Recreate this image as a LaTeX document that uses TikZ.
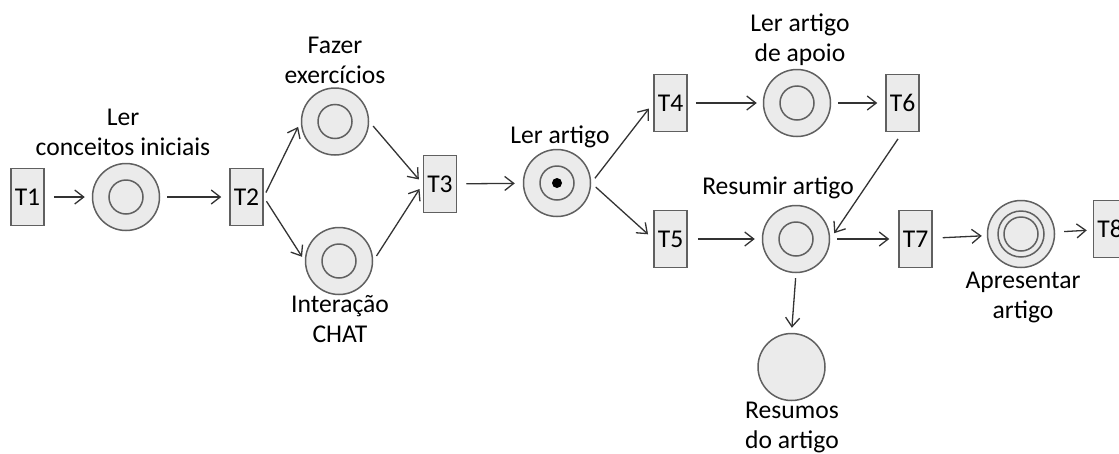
\documentclass[tikz,border=0pt]{standalone}
\usepackage{fontspec}
\setmainfont{Carlito}
\usetikzlibrary{arrows.meta}
\definecolor{placefill}{HTML}{EBEBEB}
\definecolor{edgegray}{HTML}{606060}
\begin{document}
\begin{tikzpicture}[x=1pt,y=-1pt,font=\fontsize{25.6}{30}\selectfont,
	trans/.style={draw=edgegray,fill=placefill,line width=1.5pt,minimum width=33pt,minimum height=57pt,inner sep=0pt},
	sink/.style={circle,draw=edgegray,fill=placefill,line width=1.5pt,minimum size=67pt,inner sep=0pt},
	place/.style={sink,path picture={\draw[edgegray,line width=1.5pt] (path picture bounding box.center) circle (17pt);}},
	marked/.style={sink,path picture={\draw[edgegray,line width=1.5pt] (path picture bounding box.center) circle (17pt);
		\fill[black] (path picture bounding box.center) circle (5pt);}},
	final/.style={sink,path picture={\draw[edgegray,line width=1.5pt] (path picture bounding box.center) circle (17pt) circle (23pt);}},
	txt/.style={align=center,inner sep=0pt},
	arc/.style={-{Straight Barb[length=9pt,width=14pt]},line width=1.3pt,draw=black!80}]
	\useasboundingbox (0,0) rectangle (1119,453);
	\node[trans] (t1) at (27.5,197) {T1};
	\node[place] (p1) at (126,197) {};
	\node[txt] (l1) at (123,132) {Ler\\conceitos iniciais};
	\node[trans] (t2) at (246.5,197) {T2};
	\node[place] (p2) at (335,121.5) {};
	\node[txt] (l2) at (335,60) {Fazer\\exercícios};
	\node[place] (p3) at (339,261) {};
	\node[txt] (l3) at (340,319) {Interação\\CHAT};
	\node[trans] (t3) at (440,184) {T3};
	\node[marked] (p4) at (557,183) {};
	\node[txt] (l4) at (560,137) {Ler artigo};
	\node[trans] (t4) at (670.5,103) {T4};
	\node[trans] (t5) at (670.5,239) {T5};
	\node[place] (p5) at (797,103) {};
	\node[txt] (l5) at (800,40) {Ler artigo\\de apoio};
	\node[trans] (t6) at (902.5,103) {T6};
	\node[place] (p6) at (796,239) {};
	\node[txt] (l6) at (778,188) {Resumir artigo};
	\node[sink] (p7) at (791.5,367) {};
	\node[txt] (l7) at (792,427) {Resumos\\do artigo};
	\node[trans] (t7) at (915.5,239) {T7};
	\node[final] (p8) at (1021,234) {};
	\node[txt] (l8) at (1023,297) {Apresentar\\artigo};
	\node[trans] (t8) at (1110,229) {T8};
	\draw[arc,shorten <=9pt,shorten >=7pt] (t1) -- (p1);
	\draw[arc,shorten <=7pt,shorten >=8pt] (p1) -- (t2);
	\draw[arc,shorten <=5pt,shorten >=6pt] (t2.east) -- (p2.west);
	\draw[arc,shorten <=5pt,shorten >=5pt] (t2.east) -- (p3.west);
	\draw[arc,shorten <=6pt,shorten >=6pt] (p2.east) -- (t3.west);
	\draw[arc,shorten <=6pt,shorten >=6pt] (p3.east) -- (t3.west);
	\draw[arc,shorten <=9pt,shorten >=8pt] (t3) -- (p4);
	\draw[arc,shorten <=6pt,shorten >=7pt] (p4.east) -- (t4.west);
	\draw[arc,shorten <=6pt,shorten >=7pt] (p4.east) -- (t5.west);
	\draw[arc,shorten <=8pt,shorten >=6pt] (t4) -- (p5);
	\draw[arc,shorten <=7pt,shorten >=8pt] (p5) -- (t6);
	\draw[arc,shorten <=8pt,shorten >=7pt] (t6.south) -- (p6.east);
	\draw[arc,shorten <=10pt,shorten >=7pt] (t5) -- (p6);
	\draw[arc,shorten <=7pt,shorten >=9pt] (p6.east) -- (t7.west);
	\draw[arc,shorten <=5pt,shorten >=5pt] (p6.south) -- (p7.north);
	\draw[arc,shorten <=10pt,shorten >=5pt] (t7) -- (p8);
	\draw[arc,shorten <=9pt,shorten >=6pt] (p8) -- (t8);
\end{tikzpicture}
\end{document}
